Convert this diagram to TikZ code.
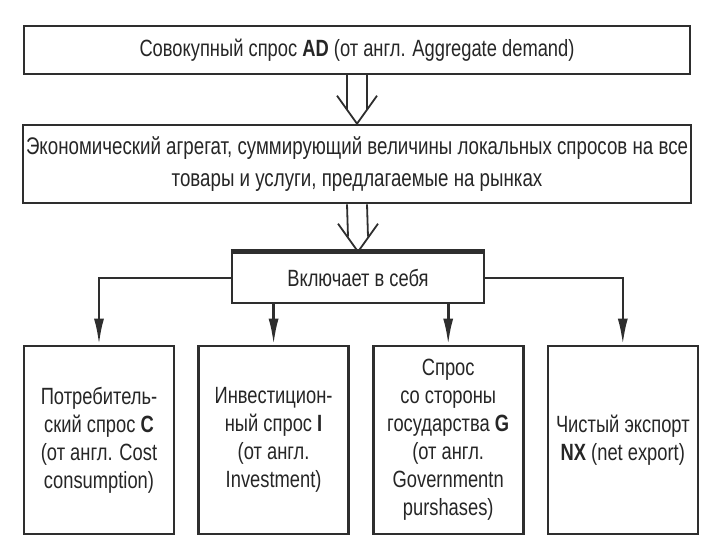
\documentclass[tikz,border=0pt]{standalone}
\usepackage{fontspec}
\setmainfont{Liberation Sans}[FakeStretch=0.78]
\usepackage{tikz}
\usetikzlibrary{arrows.meta,positioning,calc}
\definecolor{ink}{HTML}{262626}
\definecolor{frame}{HTML}{2E2E2E}
\newcommand{\hollowarrow}[2]{%
\draw[thinline] ($(#1.south)+(-10,0)$) -- ($(#2.north)+(-10,-15)$);
\draw[thinline] ($(#1.south)+(10,0)$) -- ($(#2.north)+(10,-15)$);
\draw[thinline] ($(#2.north)+(-20,-28)$) -- (#2.north) -- ($(#2.north)+(20,-28)$);}
\tikzset{>={Latex[length=26pt,width=10pt]},box/.style={draw=frame,line width=2.6pt,fill=white,align=center,inner sep=3pt,text=ink,font=\fontsize{23.5}{28}\selectfont},leaf/.style={box,minimum width=150pt,minimum height=188pt},arr/.style={->,line width=2.6pt,frame},thinline/.style={draw=frame,line width=1.8pt}}

\begin{document}
\begin{tikzpicture}[x=1pt,y=-1pt]
\useasboundingbox (0,0) rectangle (720,540);
\node[box,minimum width=666pt,minimum height=48pt] (ad) at (357,50) {Совокупный спрос \textbf{AD} (от англ. Aggregate demand)};
\node[box,minimum width=666pt,minimum height=78pt,font=\fontsize{24}{32}\selectfont] (agg) at (357,164) {Экономический агрегат, суммирующий величины локальных спросов на все\\товары и услуги, предлагаемые на рынках};
\node[box,minimum width=252pt,minimum height=50pt] (inc) at (358,278) {Включает в себя};
\draw[frame,line width=4.5pt] (inc.north west) -- (inc.north east);
\node[leaf] (c) at (99,440) {Потребитель-\\ский спрос \textbf{C}\\(от англ. Cost\\consumption)};
\node[leaf,right=22pt of c] (i) {Инвестицион-\\ный спрос \textbf{I}\\(от англ.\\Investment)};
\node[leaf,right=22pt of i] (g) {Спрос\\со стороны\\государства \textbf{G}\\(от англ.\\Governmentn\\purshases)};
\node[leaf,right=22pt of g] (nx) {Чистый экспорт\\\textbf{NX} (net export)};
% open arrows between the upper boxes
\hollowarrow{ad}{agg}
\hollowarrow{agg}{inc}
% branches
\draw[arr] (inc.west) -| (c.north);
\draw[arr] (inc.east) -| (nx.north);
\draw[arr] (inc.south -| i.north) -- (i.north);
\draw[arr] (inc.south -| g.north) -- (g.north);
\end{tikzpicture}
\end{document}
